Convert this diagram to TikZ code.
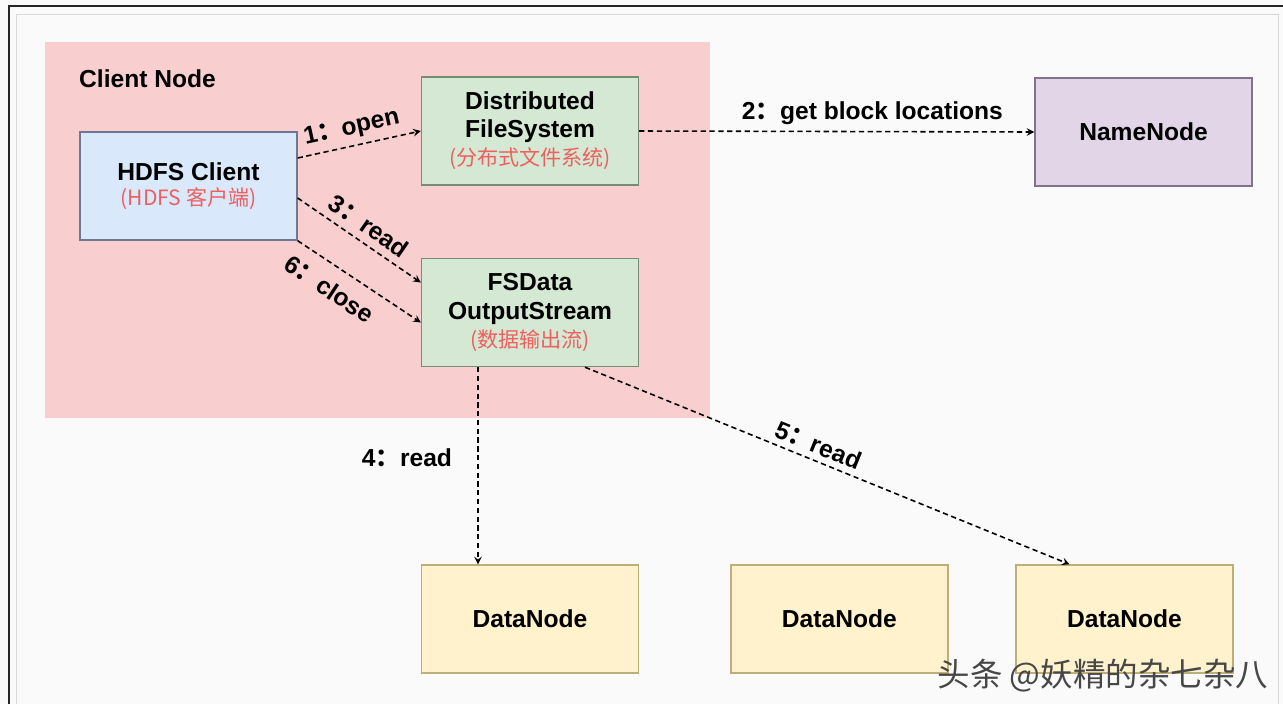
\documentclass[tikz,border=0pt]{standalone}
\usepackage{fontspec}
\setmainfont{Liberation Sans}
\newfontfamily\cjk{Noto Sans CJK SC}
\usetikzlibrary{positioning,calc,arrows}

\definecolor{clientbg}{RGB}{248,206,206}
\definecolor{hdfsfill}{RGB}{218,232,252}
\definecolor{hdfsline}{RGB}{110,120,150}
\definecolor{dfsfill}{RGB}{213,232,212}
\definecolor{dfsline}{RGB}{120,140,115}
\definecolor{namefill}{RGB}{225,213,231}
\definecolor{nameline}{RGB}{130,115,140}
\definecolor{datafill}{RGB}{255,242,204}
\definecolor{dataline}{RGB}{190,175,120}
\definecolor{zhred}{RGB}{238,95,95}

\newcommand{\zhnote}[1]{{\fontsize{12}{14}\selectfont\mdseries\color{zhred}\cjk #1}}
\newcommand{\cc}{{\cjk ：}}

\begin{document}
\begin{tikzpicture}[x=0.02cm,y=-0.02cm,>=stealth,
		base node/.style={rectangle,draw,line width=0.8pt,minimum width=4.34cm,minimum height=2.16cm,
			align=center,font=\fontsize{14}{16}\selectfont\bfseries},
		client node/.style={base node,fill=hdfsfill,draw=hdfsline},
		fs node/.style={base node,fill=dfsfill,draw=dfsline},
		name node/.style={base node,fill=namefill,draw=nameline},
		data node/.style={base node,fill=datafill,draw=dataline},
		flow/.style={->,dash pattern=on 3pt off 2pt,line width=0.9pt},
		lbl/.style={font=\fontsize{14}{16}\selectfont\bfseries}]
		% 背景与边框
		\fill[white!98!black] (0,0) rectangle (1283,704);
		\useasboundingbox (0,0) rectangle (1283,704);
		\draw[black!85,line width=1.2pt] (9,704) -- (9,6) -- (1283,6);
		\draw[black!15,line width=0.5pt] (16,704) -- (16,14) -- (1278,14) -- (1278,704);
		
		% Client Node 区域
		\fill[clientbg] (45,42) rectangle (710,418);
		\node[anchor=base west,font=\fontsize{14}{16}\selectfont\bfseries] (clientlbl) at (73,87) {Client Node};
		
		\node[client node] (hdfs) at (188.5,186) {HDFS Client\\[-2pt]\zhnote{(HDFS 客户端)}};
		\node[fs node] (dfs) at (530,131) {Distributed\\FileSystem\\\zhnote{(分布式文件系统)}};
		\node[fs node] (fsdos) at (530,312.5) {FSData\\OutputStream\\\zhnote{(数据输出流)}};
		\node[name node] (namenode) at (1143.5,132) {NameNode};
		\node[data node] (dn1) at (530,619) {DataNode};
		\node[data node, right=1.82cm of dn1] (dn2) {DataNode};
		\node[data node] (dn3) at (1124.5,619) {DataNode};
		
		\path[flow]
		($(hdfs.east)+(0,-28)$) edge node[lbl,above,sloped,pos=0.47] {1\cc open} (dfs.west)
		(dfs.east) edge node[lbl,above,pos=0.59] {2\cc get block locations} (namenode.west)
		($(hdfs.east)+(0,12)$) edge node[lbl,above=1pt,sloped,pos=0.5] {3\cc read} ($(fsdos.west)+(0,-30)$)
		(hdfs.south east) edge node[lbl,below=4pt,sloped,pos=0.36] {6\cc close} ($(fsdos.west)+(0,10)$)
		($(fsdos.south)+(-52,0)$) edge node[lbl,left,xshift=-11pt,pos=0.46] {4\cc read} ($(dn1.north)+(-52,0)$)
		($(fsdos.south)+(55,0)$) edge node[lbl,above,sloped,pos=0.47] {5\cc read} ($(dn3.north)+(-55,0)$);
		
		% 水印
		\node[font=\fontsize{18.5}{20}\selectfont\cjk,text=black!72] (mark) at (1103,676) {头条 @妖精的杂七杂八};
	\end{tikzpicture}
\end{document}
